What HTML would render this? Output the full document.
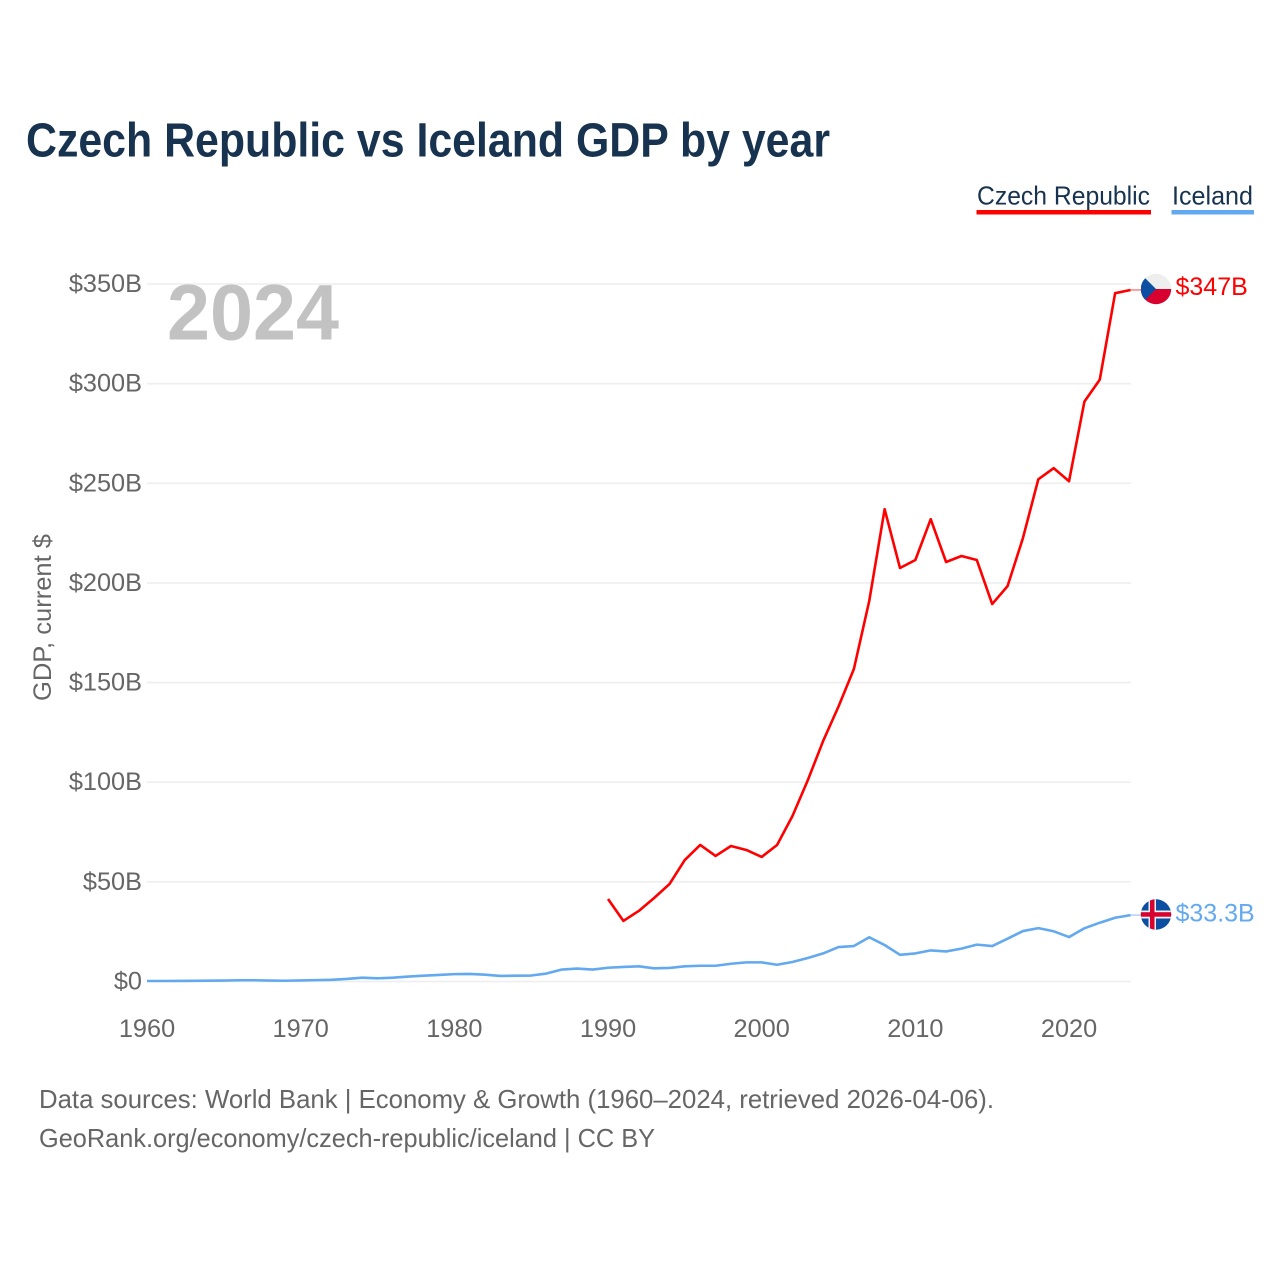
<!DOCTYPE html>
<html lang="en">
<head>
<meta charset="utf-8">
<title>Czech Republic vs Iceland GDP by year</title>
<style>
html,body{margin:0;padding:0;background:#fff;}
svg{display:block;font-family:"Liberation Sans",sans-serif;}
</style>
</head>
<body>
<svg id="chart" xmlns="http://www.w3.org/2000/svg" width="1280" height="1280" viewBox="0 0 1280 1280">
  <defs>
    <clipPath id="clip-cz"><circle cx="1156" cy="289" r="15.2"/></clipPath>
    <clipPath id="clip-is"><circle cx="1156" cy="914.5" r="15.2"/></clipPath>
  </defs>
  <rect x="0" y="0" width="1280" height="1280" fill="#ffffff"/>
  <text x="26" y="156.5" font-size="48" font-weight="700" fill="#17334f" textLength="804" lengthAdjust="spacingAndGlyphs">Czech Republic vs Iceland GDP by year</text>

  <g>
    <g>
      <text x="977" y="204.5" font-size="26" fill="#17334f" textLength="173" lengthAdjust="spacingAndGlyphs">Czech Republic</text>
      <rect x="976.5" y="210" width="174.5" height="4.5" fill="#ff0000"/>
    </g>
    <g>
      <text x="1172" y="204.5" font-size="26" fill="#17334f" textLength="81" lengthAdjust="spacingAndGlyphs">Iceland</text>
      <rect x="1171.5" y="210" width="82.5" height="4.5" fill="#63a9ef"/>
    </g>
  </g>

  <g id="grid"></g>
  <g id="y-ticks"></g>
  <g id="x-ticks"></g>

  <text x="167" y="339.5" font-size="79" font-weight="700" fill="#c2c2c2" textLength="172" lengthAdjust="spacingAndGlyphs">2024</text>
  <text transform="translate(51,701) rotate(-90)" font-size="25" fill="#666666" textLength="167" lengthAdjust="spacingAndGlyphs">GDP, current $</text>

  <g id="series"></g>

  <g clip-path="url(#clip-cz)">
    <rect x="1140" y="273" width="32" height="16" fill="#eeeeee"/>
    <rect x="1140" y="289" width="32" height="16" fill="#d7002e"/>
    <polygon points="1141,274 1156,289 1141,304" fill="#0b4ea2"/>
  </g>
  <g clip-path="url(#clip-is)">
    <rect x="1140" y="899" width="32" height="31" fill="#0b4ea2"/>
    <rect x="1148.5" y="899" width="7.5" height="31" fill="#f0f0f0"/>
    <rect x="1140" y="910.5" width="32" height="8" fill="#f0f0f0"/>
    <rect x="1150" y="899" width="4.5" height="31" fill="#d7002e"/>
    <rect x="1140" y="912.2" width="32" height="4.5" fill="#d7002e"/>
  </g>
  <text id="value-cz" x="1175.5" y="295" font-size="25" fill="#ff0000"></text>
  <text id="value-is" x="1175.5" y="921.5" font-size="25" fill="#63a9ef"></text>

  <text x="39" y="1108" font-size="26" fill="#666666" textLength="955" lengthAdjust="spacingAndGlyphs">Data sources: World Bank | Economy &amp; Growth (1960–2024, retrieved 2026-04-06).</text>
  <text x="39" y="1147" font-size="26" fill="#666666" textLength="616" lengthAdjust="spacingAndGlyphs">GeoRank.org/economy/czech-republic/iceland | CC BY</text>
</svg>
<script>
const years = [1960,1961,1962,1963,1964,1965,1966,1967,1968,1969,1970,1971,1972,1973,1974,1975,1976,1977,1978,1979,1980,1981,1982,1983,1984,1985,1986,1987,1988,1989,1990,1991,1992,1993,1994,1995,1996,1997,1998,1999,2000,2001,2002,2003,2004,2005,2006,2007,2008,2009,2010,2011,2012,2013,2014,2015,2016,2017,2018,2019,2020,2021,2022,2023,2024];
const czechValues = [null,null,null,null,null,null,null,null,null,null,null,null,null,null,null,null,null,null,null,null,null,null,null,null,null,null,null,null,null,null,41.4,30.4,35.4,41.9,48.9,61,68.5,63,68,66,62.5,68.5,83,101,120.7,138,156.8,191,237,207.5,211.5,232,210.5,213.5,211.5,189.4,198.4,222.5,252,257.6,251,291,302,345.4,347];
const icelandValues = [0.25,0.25,0.28,0.33,0.41,0.49,0.62,0.62,0.48,0.37,0.53,0.69,0.85,1.3,1.9,1.6,1.9,2.5,2.9,3.3,3.7,3.8,3.4,2.8,2.9,3.0,4.0,6.0,6.5,6.0,6.9,7.3,7.6,6.6,6.8,7.6,7.9,7.9,8.9,9.6,9.6,8.4,9.8,11.8,14.1,17.3,17.8,22.2,18.3,13.4,14.1,15.6,15.1,16.5,18.5,17.8,21.5,25.3,26.8,25.2,22.3,26.7,29.5,32,33.3];
const yTickValues = [0,50,100,150,200,250,300,350];
const yTickLabels = ["$0","$50B","$100B","$150B","$200B","$250B","$300B","$350B"];
const xTickValues = [1960,1970,1980,1990,2000,2010,2020];
const czechLabel = "$347B";
const icelandLabel = "$33.3B";

const NS = "http://www.w3.org/2000/svg";
function xScale(year) { return 147 + (year - 1960) * (1130.5 - 147) / 64; }
function yScale(value) { return 981.5 - value * (981.5 - 284) / 350; }

const gridGroup = document.getElementById("grid");
const yTickGroup = document.getElementById("y-ticks");
const xTickGroup = document.getElementById("x-ticks");
const seriesGroup = document.getElementById("series");

yTickValues.forEach(function (v, i) {
  const line = document.createElementNS(NS, "line");
  
  
  line.setAttribute("x1", 147);
  line.setAttribute("x2", 1131);
  line.setAttribute("y1", yScale(v));
  line.setAttribute("y2", yScale(v));
  line.setAttribute("stroke", "#eeeeee");
  line.setAttribute("stroke-width", "1.6");
  gridGroup.appendChild(line);

  const label = document.createElementNS(NS, "text");
  
  
  label.setAttribute("x", 142);
  label.setAttribute("y", yScale(v) + 8);
  label.setAttribute("text-anchor", "end");
  label.setAttribute("font-size", "25.3");
  label.setAttribute("fill", "#666666");
  label.textContent = yTickLabels[i];
  yTickGroup.appendChild(label);
});

xTickValues.forEach(function (yr) {
  const label = document.createElementNS(NS, "text");
  
  
  label.setAttribute("x", xScale(yr));
  label.setAttribute("y", 1037);
  label.setAttribute("text-anchor", "middle");
  label.setAttribute("font-size", "25.3");
  label.setAttribute("fill", "#666666");
  label.textContent = String(yr);
  xTickGroup.appendChild(label);
});

function buildPoints(values) {
  const pts = [];
  values.forEach(function (v, i) {
    if (v !== null) {
      pts.push(xScale(years[i]).toFixed(2) + "," + yScale(v).toFixed(2));
    }
  });
  return pts.join(" ");
}

function lastValue(values) { return values[values.length - 1]; }

const czechConnector = document.createElementNS(NS, "line");


czechConnector.setAttribute("x1", xScale(years[years.length - 1]));
czechConnector.setAttribute("x2", 1141);
czechConnector.setAttribute("y1", yScale(lastValue(czechValues)));
czechConnector.setAttribute("y2", yScale(lastValue(czechValues)));
czechConnector.setAttribute("stroke", "#ff0000");
czechConnector.setAttribute("stroke-width", "1.5");
czechConnector.setAttribute("opacity", "0.5");
seriesGroup.appendChild(czechConnector);

const icelandConnector = document.createElementNS(NS, "line");


icelandConnector.setAttribute("x1", xScale(years[years.length - 1]));
icelandConnector.setAttribute("x2", 1141);
icelandConnector.setAttribute("y1", yScale(lastValue(icelandValues)));
icelandConnector.setAttribute("y2", yScale(lastValue(icelandValues)));
icelandConnector.setAttribute("stroke", "#63a9ef");
icelandConnector.setAttribute("stroke-width", "1.5");
icelandConnector.setAttribute("opacity", "0.5");
seriesGroup.appendChild(icelandConnector);

const icelandLine = document.createElementNS(NS, "polyline");


icelandLine.setAttribute("points", buildPoints(icelandValues));
icelandLine.setAttribute("fill", "none");
icelandLine.setAttribute("stroke", "#63a9ef");
icelandLine.setAttribute("stroke-width", "2.6");
icelandLine.setAttribute("stroke-linejoin", "round");
seriesGroup.appendChild(icelandLine);

const czechLine = document.createElementNS(NS, "polyline");


czechLine.setAttribute("points", buildPoints(czechValues));
czechLine.setAttribute("fill", "none");
czechLine.setAttribute("stroke", "#ff0000");
czechLine.setAttribute("stroke-width", "2.6");
czechLine.setAttribute("stroke-linejoin", "round");
seriesGroup.appendChild(czechLine);

document.getElementById("value-cz").textContent = czechLabel;
document.getElementById("value-is").textContent = icelandLabel;
</script>
</body>
</html>
